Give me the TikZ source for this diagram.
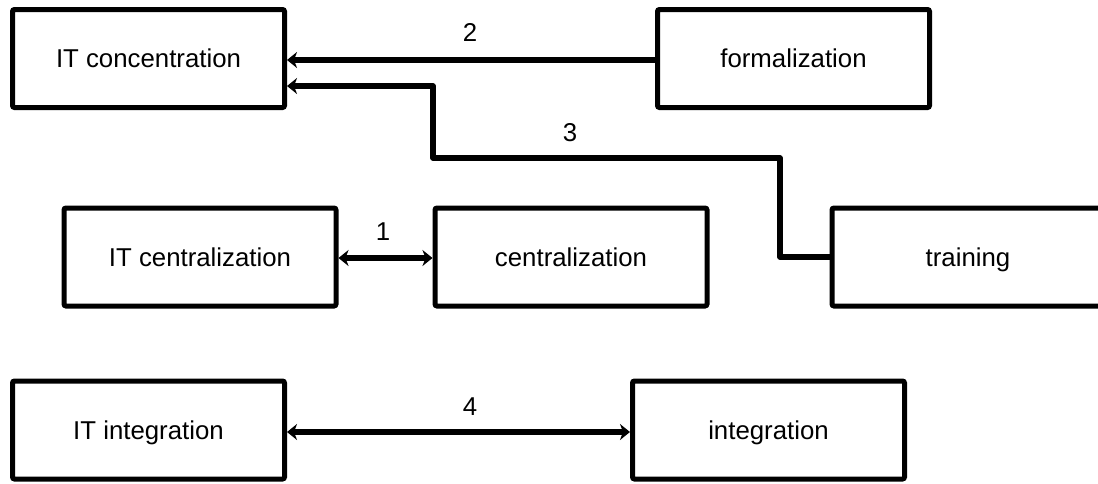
\documentclass[tikz,border=0pt]{standalone}
\usepackage{fontspec}
\setmainfont{Liberation Sans}
\usetikzlibrary{arrows.meta}

\tikzset{
  box/.style={draw, line width=5pt, rounded corners=2pt, minimum width=272pt,
    minimum height=98pt, inner sep=0pt, align=center,
    text height=20pt, text depth=2pt,
    font=\fontsize{25.8}{30}\selectfont},
  link/.style={line width=5.5pt},
  tip/.tip={Stealth[length=10pt,width=16pt,inset=3pt]},
  num/.style={font=\fontsize{25.8}{30}\selectfont, inner sep=0pt}
}

\begin{document}
\begin{tikzpicture}[x=1pt, y=-1pt]
  \clip (0,0) rectangle (1098,483);
  \fill[white] (0,0) rectangle (1098,483);

  % top row
  \node[box] (itconc) at (148.5,58.5) {IT concentration};
  \node[box] (form)   at (793.5,58.5) {formalization};

  % middle row
  \node[box] (itcent) at (200,257) {IT centralization};
  \node[box] (cent)   at (571,257) {centralization};
  \node[box] (train)  at (968,257) {training};

  % bottom row
  \node[box] (itint) at (148.5,430) {IT integration};
  \node[box] (integ) at (768.5,430) {integration};

  % bends of the training link
  \coordinate (k1) at (780,158);
  \coordinate (k2) at (433,86);

  % connectors
  \draw[link,-tip] ([yshift=-1.5pt]form.west) -- ([yshift=-1.5pt]itconc.east);
  \draw[link,-tip,line join=round] (train.west) -| (k1) -| (k2) -- (itconc.east |- k2);
  \draw[link,tip-tip] ([yshift=-1pt]itcent.east) -- ([yshift=-1pt]cent.west);
  \draw[link,tip-tip] ([yshift=-2pt]itint.east) -- ([yshift=-2pt]integ.west);

  % labels
  \node[num] (n2) at (470,32)  {2};
  \node[num] (n3) at (570,133) {3};
  \node[num] (n1) at (383,232) {1};
  \node[num] (n4) at (470,407) {4};
\end{tikzpicture}
\end{document}
